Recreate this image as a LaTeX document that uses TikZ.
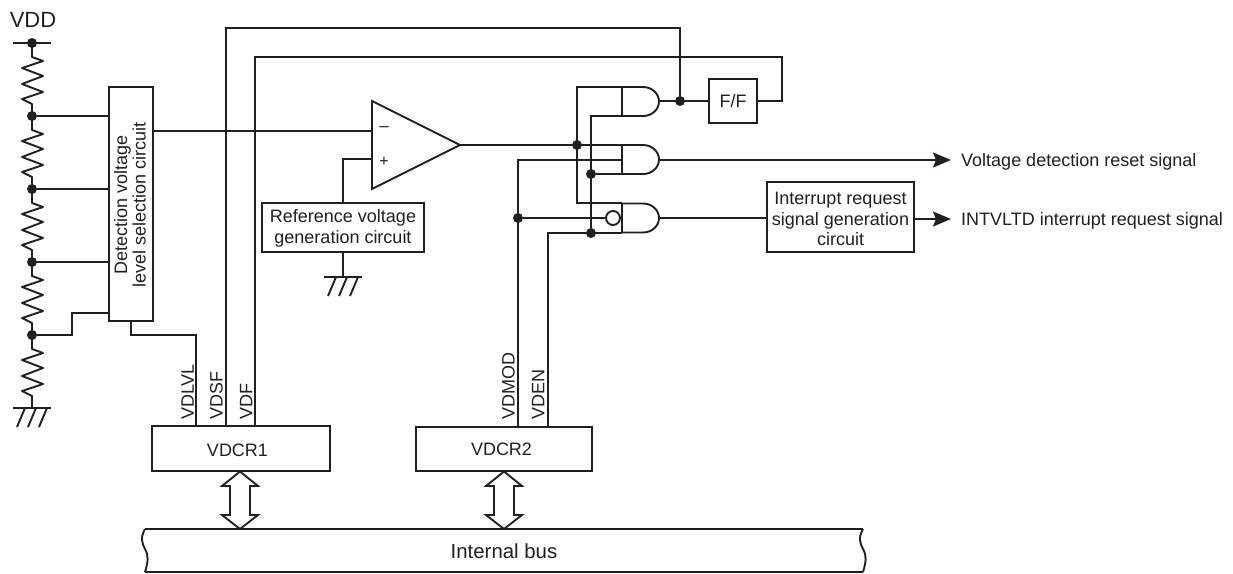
\documentclass[tikz,border=0pt]{standalone}
\usepackage{fontspec}
\setmainfont{Liberation Sans}
\usetikzlibrary{positioning,calc,arrows.meta}
\definecolor{ink}{HTML}{231F20}
\tikzset{
  wire/.style={draw=ink,line width=1.9pt,line join=miter},
  blockbox/.style={draw=ink,line width=1.9pt,fill=white,inner sep=0pt,text=ink,align=center,font=\fontsize{18}{20.5}\selectfont},
  lbl/.style={inner sep=0pt,text=ink,font=\fontsize{18}{21}\selectfont},
  vlbl/.style={inner sep=0pt,text=ink,rotate=90,anchor=south west,font=\fontsize{18}{21}\selectfont},
  dotj/.style={circle,fill=ink,inner sep=0pt,minimum size=10pt},
  thead/.style={-{Stealth[length=18pt,width=15pt,inset=3pt]}},
  gnd/.pic={\draw[wire] (-19,0) -- (19,0);
    \foreach \d in {-7,4,15}{\draw[wire] (\d,0) -- (\d-8,19);}},
  resistor/.pic={\draw[wire,line join=round] (0,0) -- (0,14) -- (11,18) -- (-10,25) -- (11,33) -- (-10,41) -- (11,49) -- (-10,56) -- (0,61) -- (0,73);},
  gatepic/.pic={\draw[wire,fill=white] (0,-14.5) -- (21,-14.5) arc[start angle=90,end angle=-90,x radius=16,y radius=-14.5] -- (0,14.5) -- cycle;}
}
\begin{document}
\begin{tikzpicture}[x=1pt,y=-1pt]
\useasboundingbox (0,0) rectangle (1233,573);
% rail and resistors
\node[lbl,font=\fontsize{22}{22}\selectfont] (vdd) at (33,20) {VDD};
\coordinate (railL) at (13,43); \coordinate (railR) at (51,43);
\draw[wire] (railL) -- (railR);
\node[dotj] (n0) at (32,43) {};
\node[dotj] (n1) at (32,116) {};
\node[dotj] (n2) at (32,189) {};
\node[dotj] (n3) at (32,262) {};
\node[dotj] (n4) at (32,335) {};
\pic at (32,43) {resistor};
\pic at (32,116) {resistor};
\pic at (32,189) {resistor};
\pic at (32,262) {resistor};
\pic at (32,335) {resistor};
\pic at (32,408) {gnd};
% selection box
\node[blockbox,minimum width=44pt,minimum height=234pt] (sel) at (131,204) {};
\node[lbl,rotate=90,align=center,font=\fontsize{18}{18.5}\selectfont] (seltext) at (130,205) {Detection voltage\\level selection circuit};
\draw[wire] (n1) -- (n1-|sel.west);
\draw[wire] (n2) -- (n2-|sel.west);
\draw[wire] (n3) -- (n3-|sel.west);
\coordinate (selin) at (sel.west|-0,313);
\draw[wire] (n4) -- (72,335) -- (72,313) -- (selin);
% registers
\node[blockbox,minimum width=178pt,minimum height=45pt] (vdcr1) at (241,448.5) {};
\node[lbl] (tvdcr1) at (237.5,450) {VDCR1};
\node[blockbox,minimum width=176pt,minimum height=44pt] (vdcr2) at (504,449) {};
\node[lbl] (tvdcr2) at (501.5,449.5) {VDCR2};
% bus
\node[lbl,font=\fontsize{20.4}{22}\selectfont] (bus) at (504,551) {Internal bus};
\coordinate (busTL) at (145,529); \coordinate (busTR) at (863,529);
\coordinate (busBL) at (145,572); \coordinate (busBR) at (863,572);
\draw[wire] (busBL) -- (busBR);
\draw[wire] (busTL) -- (busTR);
\draw[wire] (busTL) .. controls (140,538) and (142,543) .. (145,549) .. controls (149,556) and (148,562) .. (busBL);
\draw[wire] (busTR) .. controls (858,538) and (860,543) .. (863,549) .. controls (867,556) and (866,562) .. (busBR);
% bidirectional arrows
\foreach \n/\cx in {vdcr1/240,vdcr2/504}{
  \draw[wire,fill=white] (\cx,471.5) -- (\cx+18,486) -- (\cx+10,486) -- (\cx+10,515) -- (\cx+18,515) -- (\cx,529) -- (\cx-18,515) -- (\cx-10,515) -- (\cx-10,486) -- (\cx-18,486) -- cycle;
}
% register wires
\coordinate (vdlvl) at (196,426); \coordinate (vdsf) at (226,426); \coordinate (vdf) at (255,426);
\coordinate (vdmod) at (518,427); \coordinate (vden) at (548,427);
\draw[wire] (sel.south) -- (131,335) -- (196,335) -- (vdlvl);
\node[vlbl] (tvdlvl) at (194,420) {VDLVL};
\node[vlbl] (tvdsf) at (223,420) {VDSF};
\node[vlbl] (tvdf) at (252.5,420) {VDF};
\node[vlbl] (tvdmod) at (515,420) {VDMOD};
\node[vlbl] (tvden) at (544.5,420) {VDEN};
% comparator
\coordinate (cmpT) at (372,101); \coordinate (cmpB) at (372,189); \coordinate (cmpO) at (460,145);
\node[blockbox,minimum width=162pt,minimum height=49pt] (ref) at (343,227.5) {};
\node[lbl,align=center,font=\fontsize{18}{21}\selectfont] (tref) at (343,228.5) {Reference voltage\\generation circuit};
\coordinate (inm) at (372,131); \coordinate (inp) at (372,159);
\draw[wire] (sel.east|-inm) -- (inm);
\draw[wire] (ref.north) -- (343,159) -- (inp);
\draw[wire] (ref.south) -- (343,277);
\pic at (343,277) {gnd};
\draw[wire,fill=white] (cmpT) -- (cmpO) -- (cmpB) -- cycle;
\node[lbl] (minus) at (384,129) {\fontsize{17}{17}\selectfont –};
\node[lbl] (plus) at (384,162) {\fontsize{16}{16}\selectfont +};
% gates
\coordinate (g1) at (622,101); \coordinate (g2) at (622,160); \coordinate (g3) at (622,218);
\coordinate (g1o) at (659,101); \coordinate (g2o) at (659,160); \coordinate (g3o) at (659,218);
\node[blockbox,minimum width=48pt,minimum height=44pt] (ff) at (733,101) {F/F};
\node[blockbox,minimum width=147pt,minimum height=70pt] (irq) at (840.5,217) {};
\node[lbl,align=center,font=\fontsize{18}{20.5}\selectfont] (tirq) at (840.5,219) {Interrupt request\\signal generation\\circuit};
\node[dotj] (jq) at (680,101) {};
\node[dotj] (ja) at (577,145) {};
\node[dotj] (jb) at (591,174) {};
\node[dotj] (jc) at (591,233) {};
\node[dotj] (jd) at (518,218) {};
\draw[wire] (cmpO) -- (622,145);
\draw[wire] (622,87) -- (577,87) -- (577,203) -- (622,203);
\draw[wire] (622,116) -- (591,116) -- (jc);
\draw[wire] (jb) -- (622,174);
\draw[wire] (vden) -- (548,233) -- (622,233);
\draw[wire] (vdmod) -- (518,160) -- (622,160);
\node[circle,draw=ink,line width=1.9pt,fill=white,inner sep=0pt,minimum size=14pt] (bub) at (613,218) {};
\draw[wire] (jd) -- (bub);
\pic at (622,101.5) {gatepic};
\pic at (622,159.5) {gatepic};
\pic at (622,218) {gatepic};
\draw[wire] (g1o) -- (ff.west|-g1o);
\draw[wire] (ff.east|-g1o) -- (782,101) -- (782,57) -- (255,57) -- (vdf);
\draw[wire] (jq) -- (680,28) -- (226,28) -- (vdsf);
\coordinate (o1) at (951,160); \coordinate (o2) at (951,219);
\draw[wire,thead] (g2o) -- (o1);
\draw[wire] (g3o) -- (irq.west|-g3o);
\draw[wire,thead] (irq.east|-o2) -- (o2);
\node[lbl,anchor=west] (t1) at (961,162) {Voltage detection reset signal};
\node[lbl,anchor=west] (t2) at (961,220.5) {INTVLTD interrupt request signal};
\end{tikzpicture}
\end{document}
